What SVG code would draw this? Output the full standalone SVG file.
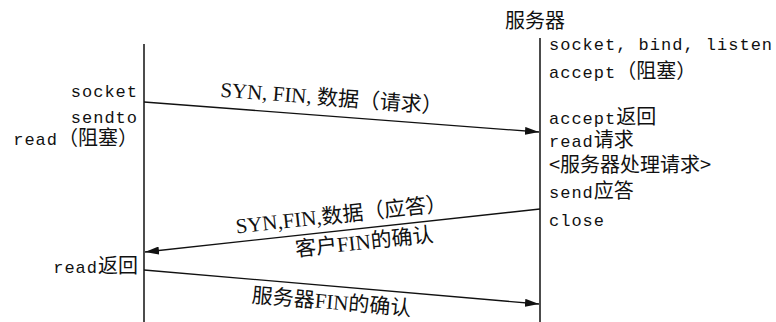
<svg xmlns="http://www.w3.org/2000/svg" width="776" height="322" viewBox="0 0 776 322">
<defs>
<style>
.mono{font-family:"Liberation Mono","Noto Sans CJK SC",monospace;font-size:17px;letter-spacing:1px;fill:#111}
.cj{font-family:"Noto Sans CJK SC",sans-serif;font-size:20px;letter-spacing:0}
.lbl{font-family:"Liberation Serif","Noto Sans CJK SC",serif;font-size:21px;fill:#111}
.life{stroke:#111;stroke-width:1.5;fill:none}
.msg{stroke:#111;stroke-width:1.3;fill:none;marker-end:url(#ah)}
</style>
<marker id="ah" viewBox="0 0 14 8" refX="14" refY="4" markerWidth="14" markerHeight="8" markerUnits="userSpaceOnUse" orient="auto">
<path d="M0,0 L14,4 L0,8 Z" fill="#111"/>
</marker>
</defs>
<rect width="776" height="322" fill="#fff"/>
<g id="client">
<line class="life" x1="144" y1="44" x2="144" y2="322"/>
<text class="mono" x="138" y="97" text-anchor="end">socket</text>
<text class="mono" x="138" y="123" text-anchor="end">sendto</text>
<text class="mono" x="138" y="145" text-anchor="end">read<tspan class="cj">（阻塞）</tspan></text>
<text class="mono" x="138" y="273" text-anchor="end">read<tspan class="cj">返回</tspan></text>
</g>
<g id="server">
<text class="cj" x="505" y="28" style="fill:#111">服务器</text>
<line class="life" x1="540" y1="38" x2="540" y2="322"/>
<text class="mono" x="549" y="50">socket, bind, listen</text>
<text class="mono" x="549" y="78">accept<tspan class="cj">（阻塞）</tspan></text>
<text class="mono" x="549" y="124">accept<tspan class="cj">返回</tspan></text>
<text class="mono" x="549" y="147">read<tspan class="cj">请求</tspan></text>
<text class="mono" x="549" y="172"><tspan class="cj">&lt;服务器处理请求&gt;</tspan></text>
<text class="mono" x="549" y="198">send<tspan class="cj">应答</tspan></text>
<text class="mono" x="549" y="226">close</text>
</g>
<g id="connectors">
<line class="msg" x1="144" y1="102" x2="539" y2="132"/>
<line class="msg" x1="540" y1="209" x2="145" y2="252"/>
<line class="msg" x1="144" y1="270" x2="539" y2="304"/>
<text class="lbl" x="331" y="105" text-anchor="middle" transform="rotate(4.3 331 105)">SYN, FIN, 数据（请求）</text>
<text class="lbl" x="342" y="222" text-anchor="middle" transform="rotate(-6.2 342 222)">SYN,FIN,数据（应答）</text>
<text class="lbl" x="365" y="249" text-anchor="middle" transform="rotate(-6.2 365 249)">客户FIN的确认</text>
<text class="lbl" x="331" y="309" text-anchor="middle" transform="rotate(4.9 331 309)">服务器FIN的确认</text>
</g>
</svg>
